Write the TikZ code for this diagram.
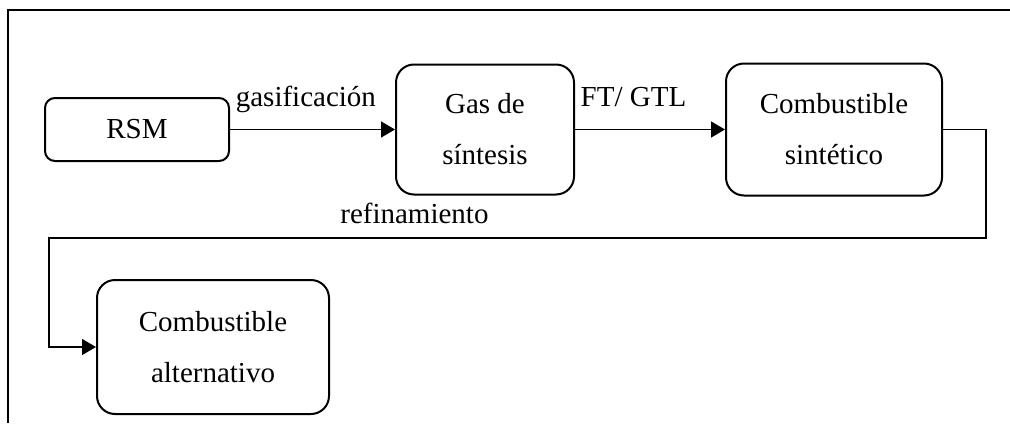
\documentclass[tikz,border=0pt]{standalone}
\usepackage{fontspec}
\setmainfont{Liberation Serif}
\usetikzlibrary{positioning,arrows.meta}

\begin{document}
\begin{tikzpicture}[x=0.5pt,y=-0.5pt,
box/.style={draw, line width=1pt, rounded corners=9pt, align=center, inner sep=0pt, font=\fontsize{14.5}{25.5}\selectfont},
flow/.style={line width=0.75pt, -{Triangle[length=7pt,width=8pt]}},
lbl/.style={font=\fontsize{14.5}{17}\selectfont, text height=10.5pt, text depth=3.5pt}]

\useasboundingbox (0,0) rectangle (1010,423);
\draw[line width=0.6pt] (1010,10) -- (8,10) -- (8,423);

\node[box, rounded corners=5pt, minimum width=92pt, minimum height=31.5pt] (rsm) at (137,129.5) {RSM}; \node[box, minimum width=89pt, minimum height=65pt, right=82.5pt of rsm] (gas) {Gas de\\síntesis}; \node[box, minimum width=108pt, minimum height=66pt, right=75pt of gas] (csin) {Combustible\\sintético}; \node[box, minimum width=116pt, minimum height=67pt] (calt) at (213,347) {Combustible\\alternativo};

\coordinate (rt) at (986,238); \coordinate (lf) at (49,238);

\draw[flow] (rsm) -- node[lbl, above=4.5pt, pos=0.46] {gasificación} (gas);
\draw[flow] (gas) -- node[lbl, above=4.5pt, pos=0.39] {FT/ GTL} (csin);
\draw[flow] (csin.east) -| (rt) -- node[lbl, above, pos=0.61] {refinamiento} (lf) |- (calt.west);
\end{tikzpicture}
\end{document}
